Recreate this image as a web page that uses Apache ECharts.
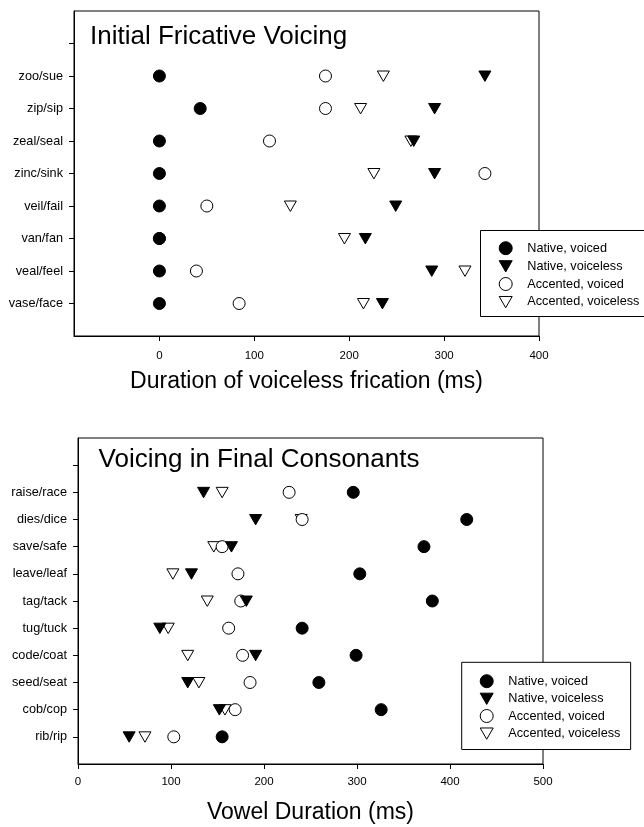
<!DOCTYPE html>
<html>
<head>
<meta charset="utf-8">
<script src="https://cdn.jsdelivr.net/npm/echarts@6/dist/echarts.min.js"></script>
<style>html,body{margin:0;padding:0;background:#fff;overflow:hidden}#c{width:644px;height:827px}</style>
</head>
<body>
<div id="c"></div>
<script>
// ---- data (categories listed bottom -> top) ----
const topCategories = ['vase/face', 'veal/feel', 'van/fan', 'veil/fail', 'zinc/sink', 'zeal/seal', 'zip/sip', 'zoo/sue'];
const topNativeVoiced = [0, 0, 0, 0, 0, 0, 43, 0];
const topNativeVoiceless = [235, 287, 217, 249, 290, 268, 290, 343];
const topAccentedVoiced = [84, 39, 0, 50, 343, 116, 175, 175];
const topAccentedVoiceless = [215, 322, 195, 138, 226, 265, 212, 236];
const topXTicks = [0, 100, 200, 300, 400];
const topYTicks = [1, 2, 3, 4, 5, 6, 7, 8, 9];

const bottomCategories = ['rib/rip', 'cob/cop', 'seed/seat', 'code/coat', 'tug/tuck', 'tag/tack', 'leave/leaf', 'save/safe', 'dies/dice', 'raise/race'];
const bottomNativeVoiced = [155, 326, 259, 299, 241, 381, 303, 372, 418, 296];
const bottomNativeVoiceless = [55, 152, 118, 191, 88, 181, 122, 165, 191, 135];
const bottomAccentedVoiced = [103, 169, 185, 177, 162, 175, 172, 155, 241, 227];
const bottomAccentedVoiceless = [72, 158, 130, 118, 97, 139, 102, 146, 240, 155];
const bottomXTicks = [0, 100, 200, 300, 400, 500];
const bottomYTicks = [1, 2, 3, 4, 5, 6, 7, 8, 9, 10, 11];

const seriesNames = ['Native, voiced', 'Native, voiceless', 'Accented, voiced', 'Accented, voiceless'];
const topTitle = 'Initial Fricative Voicing';
const bottomTitle = 'Voicing in Final Consonants';
const topXName = 'Duration of voiceless frication (ms)';
const bottomXName = 'Vowel Duration (ms)';

// ---- chart ----
const FONT = '"Liberation Sans", Arial, Helvetica, sans-serif';
const TRI_DOWN = 'path://M0,0M12,12M0,1L12,1L6,11.4Z';
const chart = echarts.init(document.getElementById('c'), null, {renderer: 'canvas'});

function pts(values) { return values.map((v, i) => [v, i + 1]); }

const styles = {
  'Native, voiced': {symbol: 'circle', itemStyle: {color: '#000', borderColor: '#000', borderWidth: 1, opacity: 1}},
  'Native, voiceless': {symbol: TRI_DOWN, itemStyle: {color: '#000', borderColor: '#000', borderWidth: 1, opacity: 1}},
  'Accented, voiced': {symbol: 'circle', itemStyle: {color: '#fff', borderColor: '#000', borderWidth: 1, opacity: 1}},
  'Accented, voiceless': {symbol: TRI_DOWN, itemStyle: {color: '#fff', borderColor: '#000', borderWidth: 1, opacity: 1}}
};

function mkSeries(name, values, gi) {
  const s = styles[name];
  return {
    type: 'scatter', name: name, xAxisIndex: gi, yAxisIndex: gi,
    symbol: s.symbol, symbolSize: 12, symbolKeepAspect: true,
    itemStyle: s.itemStyle, data: pts(values), silent: true,
    emphasis: {disabled: true}, animation: false, clip: false
  };
}

// draw order: accented voiceless (bottom) ... native voiced (top)
const series = [
  mkSeries('Accented, voiceless', topAccentedVoiceless, 0),
  mkSeries('Accented, voiced', topAccentedVoiced, 0),
  mkSeries('Native, voiceless', topNativeVoiceless, 0),
  mkSeries('Native, voiced', topNativeVoiced, 0),
  mkSeries('Accented, voiceless', bottomAccentedVoiceless, 1),
  mkSeries('Accented, voiced', bottomAccentedVoiced, 1),
  mkSeries('Native, voiceless', bottomNativeVoiceless, 1),
  mkSeries('Native, voiced', bottomNativeVoiced, 1)
];

const axisLine = {show: true, onZero: false, lineStyle: {color: '#000', width: 1}};

function xAxis(gi, min, max, ticks, name, margin, gap) {
  return {
    gridIndex: gi, type: 'value', min: min, max: max,
    axisLine: axisLine,
    axisTick: {show: true, inside: false, length: 5, customValues: ticks, lineStyle: {color: '#000', width: 1}},
    axisLabel: {show: true, customValues: ticks, margin: margin, color: '#000', fontSize: 11.5, fontFamily: FONT},
    splitLine: {show: false},
    name: name, nameLocation: 'middle', nameGap: gap,
    nameTextStyle: {color: '#000', fontSize: 23, fontFamily: FONT}
  };
}

function yAxis(gi, max, ticks, cats) {
  return {
    gridIndex: gi, type: 'value', min: 0, max: max,
    axisLine: axisLine,
    axisTick: {show: true, inside: false, length: 5, customValues: ticks, lineStyle: {color: '#000', width: 1}},
    axisLabel: {show: true, customValues: ticks, margin: 11, color: '#000', fontSize: 12.7, fontFamily: FONT,
      formatter: v => cats[v - 1] || ''},
    splitLine: {show: false}
  };
}

function legend(left, top, padding, gap, boxed) {
  return {
    orient: 'vertical', left: left, top: top, padding: padding, itemGap: gap,
    itemWidth: 33.2, itemHeight: 13, symbolKeepAspect: true,
    data: seriesNames, selectedMode: false,
    itemStyle: {borderWidth: 1, borderColor: '#000', opacity: 1},
    backgroundColor: boxed ? '#fff' : 'transparent', borderColor: '#000', borderWidth: boxed ? 1 : 0, borderRadius: 0,
    textStyle: {color: '#000', fontSize: 12.7, fontFamily: FONT, lineHeight: 13},
    z: 20
  };
}

chart.setOption({
  animation: false,
  backgroundColor: '#fff',
  textStyle: {fontFamily: FONT},
  grid: [
    {left: 74, top: 11, width: 465, height: 325, show: true, borderColor: '#000', borderWidth: 1, backgroundColor: 'transparent'},
    {left: 78, top: 438, width: 465, height: 326, show: true, borderColor: '#000', borderWidth: 1, backgroundColor: 'transparent'}
  ],
  xAxis: [
    xAxis(0, -90, 400, topXTicks, topXName, 14, 34),
    xAxis(1, 0, 500, bottomXTicks, bottomXName, 12, 37.5)
  ],
  yAxis: [
    yAxis(0, 10, topYTicks, topCategories),
    yAxis(1, 12, bottomYTicks, bottomCategories)
  ],
  legend: [
    legend(480.5, 230, [11.2, 30, 8.5, 18.2], 3.9, false),
    legend(461.7, 662.3, [11.9, 10.2, 9.1, 18.0], 3.4, true)
  ],
  graphic: [
    // top legend frame runs off the right edge of the picture, as in the source figure
    {type: 'rect', z: 10, silent: true,
     shape: {x: 480.5, y: 230.5, width: 220, height: 86},
     style: {fill: '#fff', stroke: '#000', lineWidth: 1}},
    {type: 'text', left: 90, top: 36.7 - 13, z: 30, silent: true,
     style: {text: topTitle, font: '26px ' + FONT, fill: '#000'}},
    {type: 'text', left: 98.6, top: 459.5 - 13, z: 30, silent: true,
     style: {text: bottomTitle, font: '26px ' + FONT, fill: '#000'}}
  ],
  series: series
});
</script>
</body>
</html>
